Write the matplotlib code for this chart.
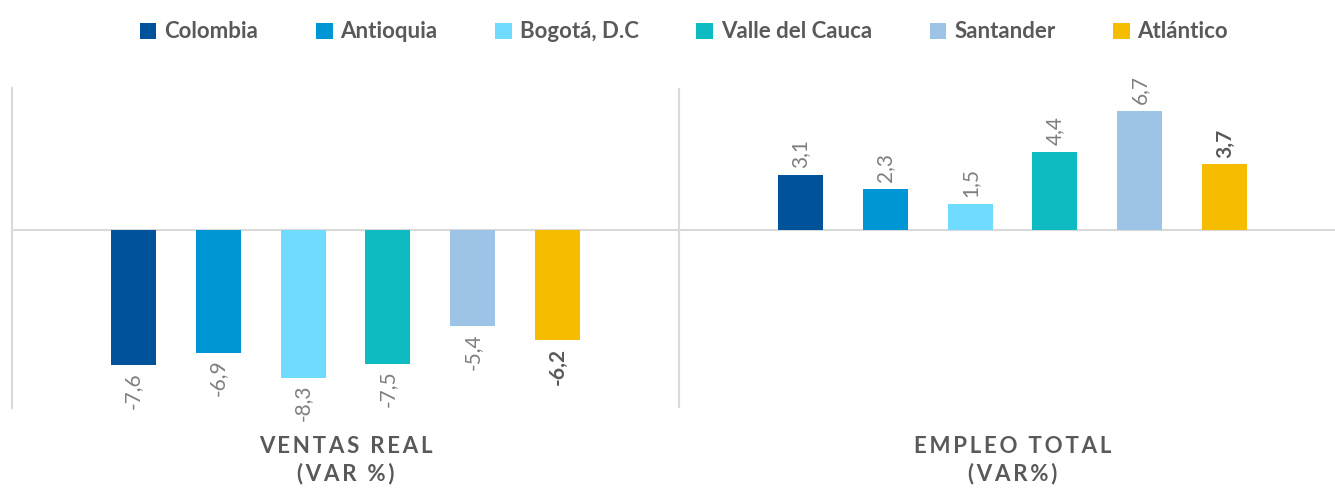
import matplotlib.pyplot as plt
from matplotlib.patches import Patch

# Data
categories = ["VENTAS REAL\n(VAR %)", "EMPLEO TOTAL\n(VAR%)"]
series_names = ["Colombia", "Antioquia", "Bogotá, D.C", "Valle del Cauca", "Santander", "Atlántico"]
colombia = [-7.6, 3.1]
antioquia = [-6.9, 2.3]
bogota = [-8.3, 1.5]
valle = [-7.5, 4.4]
santander = [-5.4, 6.7]
atlantico = [-6.2, 3.7]
series_values = [colombia, antioquia, bogota, valle, santander, atlantico]

colors = ["#00529B", "#0096D6", "#6FDBFF", "#0DBBC1", "#9DC3E6", "#F5BC00"]
text_gray = "#595959"
label_gray = "#7F7F7F"
line_gray = "#D9D9D9"

plt.rcParams['font.family'] = ['Lato', 'DejaVu Sans']


def spaced(s):
    # letter spacing for the category labels
    return "\n".join("\u2009".join(line) for line in s.split("\n"))


fig = plt.figure(figsize=(13.35, 4.9), dpi=100)
ax = fig.add_axes([12 / 1335, 82 / 490, 1334 / 1335, 320 / 490])

step = 0.1274
width = 0.0675
for i, (name, vals, c) in enumerate(zip(series_names, series_values, colors)):
    xs = [g + (i - 2.5) * step for g in range(len(categories))]
    ax.bar(xs, vals, width=width, color=c, zorder=3)
    bold = name == "Atlántico"
    for x, v in zip(xs, vals):
        ax.annotate(f"{v:.1f}".replace(".", ","), xy=(x, v),
                    xytext=(0, 5 if v > 0 else -5), textcoords="offset points",
                    rotation=90, ha="center", va="bottom" if v > 0 else "top",
                    fontsize=15, color=text_gray if bold else label_gray,
                    fontweight="bold" if bold else "normal")

ax.set_xlim(-0.5, len(categories) - 0.5)
ax.set_ylim(-10, 8)
ax.axhline(0, color=line_gray, linewidth=1.5, zorder=2)
ax.axvline(0.5, color=line_gray, linewidth=1.5, zorder=2)
for s in ["top", "right", "bottom"]:
    ax.spines[s].set_visible(False)
ax.spines["left"].set_color(line_gray)
ax.spines["left"].set_linewidth(1.5)
ax.set_yticks([])
ax.set_xticks(range(len(categories)))
ax.set_xticklabels([spaced(c) for c in categories], fontsize=16, fontweight="bold",
                   color=text_gray, linespacing=1.35)
ax.tick_params(axis="x", length=0, pad=20)

handles = [Patch(facecolor=c, label=n) for n, c in zip(series_names, colors)]
fig.legend(handles=handles, loc="upper center", bbox_to_anchor=(684 / 1335, 0.997),
           ncol=6, frameon=False, handlelength=0.75, handleheight=0.75,
           handletextpad=0.35, columnspacing=2.6,
           prop={"size": 16, "weight": "bold"}, labelcolor=text_gray)

fig.savefig("out.png", dpi=100)
